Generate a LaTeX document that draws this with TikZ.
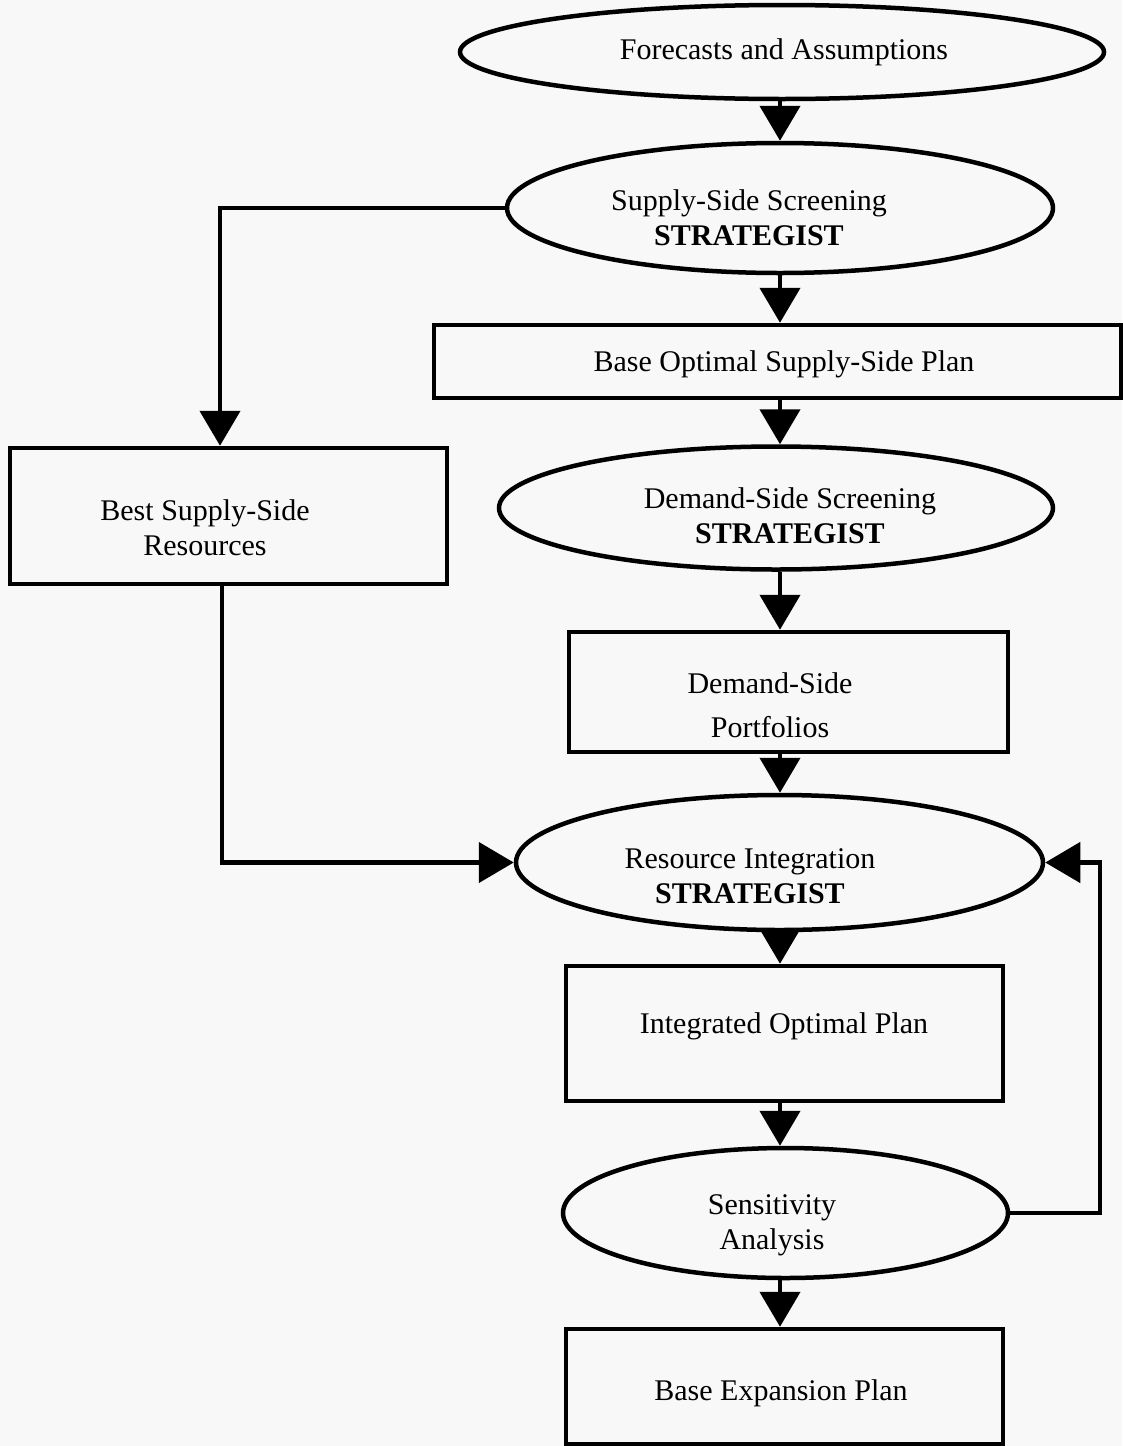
\documentclass[tikz,border=0pt]{standalone}
\usepackage{fontspec}
\setmainfont{Liberation Serif}
\usetikzlibrary{arrows.meta,shapes.geometric}
\definecolor{bg}{RGB}{248,248,248}
\begin{document}
\begin{tikzpicture}[x=1pt,y=-1pt,
  shp/.style={draw=black, line width=4.5pt, inner sep=0pt},
  ell/.style={shp, ellipse},
  box/.style={shp, rectangle},
  txt/.style={font=\fontsize{30}{35}\selectfont, align=center, inner sep=0pt},
  arr/.style={line width=4.5pt, -{Triangle[width=40pt,length=35pt]}}
]
\fill[bg] (0,0) rectangle (1122,1446);
\useasboundingbox (0,0) rectangle (1122,1446);

% shapes
\node[ell, minimum width=644pt, minimum height=94pt] (fa) at (782,52) {};
\node[ell, minimum width=546pt, minimum height=130pt] (sss) at (780,208) {};
\node[box, minimum width=687pt, minimum height=73pt] (bos) at (777.5,361.5) {};
\node[box, minimum width=437pt, minimum height=136pt] (bss) at (228.5,516) {};
\node[ell, minimum width=554pt, minimum height=123pt] (dss) at (776,508) {};
\node[box, minimum width=439pt, minimum height=120pt] (dsp) at (788.5,692) {};
\node[ell, minimum width=527pt, minimum height=135pt] (ri) at (779.5,862.5) {};
\node[box, minimum width=437pt, minimum height=135pt] (iop) at (784.5,1033.5) {};
\node[ell, minimum width=445pt, minimum height=130pt] (sa) at (785.5,1213) {};
\node[box, minimum width=437pt, minimum height=115pt] (bep) at (784.5,1386.5) {};

% texts
\node[txt] (tfa) at (784,52) {Forecasts and Assumptions};
\node[txt] (tsss) at (749,218) {Supply-Side Screening\\\textbf{STRATEGIST}};
\node[txt] (tbos) at (784,364) {Base Optimal Supply-Side Plan};
\node[txt] (tbss) at (205,528) {Best Supply-Side\\Resources};
\node[txt] (tdss) at (790,516) {Demand-Side Screening\\\textbf{STRATEGIST}};
\node[txt, font=\fontsize{30}{44}\selectfont] (tdsp) at (770,705) {Demand-Side\\Portfolios};
\node[txt] (tri) at (750,876) {Resource Integration\\\textbf{STRATEGIST}};
\node[txt] (tiop) at (784,1026) {Integrated Optimal Plan};
\node[txt] (tsa) at (772,1225) {Sensitivity\\Analysis};
\node[txt] (tbep) at (781,1393) {Base Expansion Plan};

% main column connectors
\coordinate (col) at (780,0);
\draw[arr] (col |- fa.south) -- (col |- sss.north);
\draw[arr] (col |- sss.south) -- (col |- bos.north);
\draw[arr] (col |- bos.south) -- (col |- dss.north);
\draw[arr] (col |- dss.south) -- (col |- dsp.north);
\draw[arr] (col |- dsp.south) -- (col |- ri.north);
\draw[arr] (col |- ri.south) -- (col |- iop.north);
\draw[arr] (col |- iop.south) -- (col |- sa.north);
\draw[arr] (col |- sa.south) -- (col |- bep.north);

% side connectors
\coordinate (c1) at (220,208);
\draw[arr] (sss.west) -- (c1) -- (c1 |- bss.north);
\coordinate (c2) at (222,862.5);
\draw[arr] (c2 |- bss.south) -- (c2) -- (ri.west);
\coordinate (c3) at (1100,862.5);
\draw[arr] (sa.east) -| (c3) -- (ri.east);
\end{tikzpicture}
\end{document}
